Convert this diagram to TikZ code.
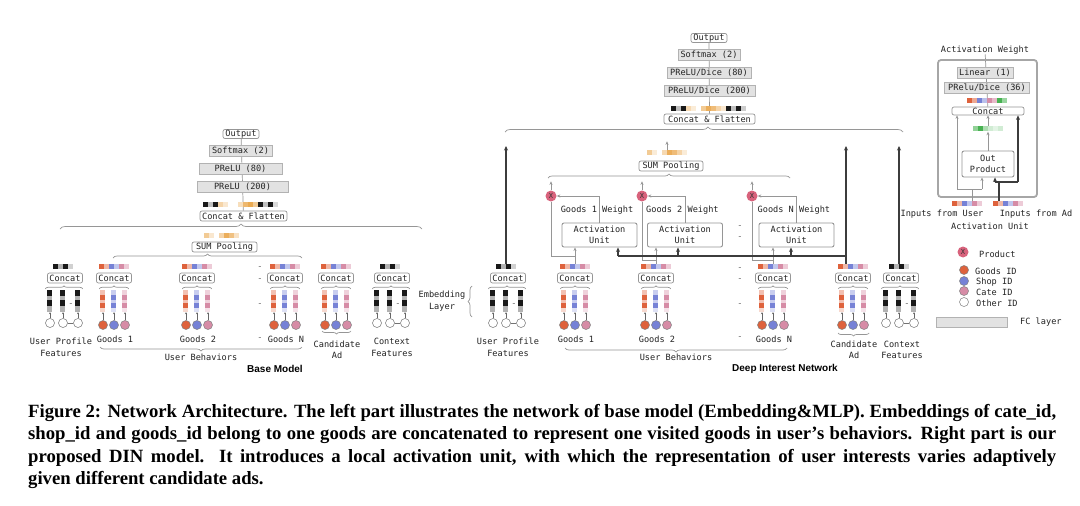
\documentclass[tikz,border=0pt]{standalone}
\usepackage{fontspec}
\newfontfamily\monof{DejaVu Sans Mono}
\newfontfamily\sansf{Liberation Sans}
\newfontfamily\capf{Liberation Serif}
\usetikzlibrary{decorations.pathreplacing,arrows.meta,calc}
\pgfdeclarelayer{bg}
\pgfsetlayers{bg,main}
\definecolor{cgoods}{RGB}{222,98,60}
\definecolor{cshop}{RGB}{118,130,214}
\definecolor{ccate}{RGB}{214,140,166}
\definecolor{cprod}{RGB}{216,98,124}
\definecolor{corg}{RGB}{232,160,62}
\definecolor{cgrn}{RGB}{72,178,82}
\definecolor{lgray}{RGB}{150,150,150}
\definecolor{fcfill}{RGB}{226,226,226}
\definecolor{cdark}{RGB}{60,60,60}
\definecolor{ctext}{RGB}{35,35,35}
\tikzset{
  lbl/.style={font=\fontsize{8.6}{11.5}\monof, text=ctext, inner sep=0pt},
  cbox/.style={lbl, draw=lgray, line width=0.7pt, fill=white, rounded corners=2pt, minimum height=10pt, inner xsep=2pt},
  fcbox/.style={lbl, draw=black!30, line width=0.6pt, fill=fcfill, minimum height=11pt},
  gline/.style={draw=lgray, line width=0.7pt},
  garr/.style={gline, -{Stealth[length=3.5pt,width=3pt]}},
  tarr/.style={draw=black!60, line width=0.4pt, -{Stealth[length=2pt,width=2pt]}},
  dkline/.style={draw=cdark, line width=1.2pt},
  dkarr/.style={dkline, -{Stealth[length=4.5pt,width=4pt]}},
  brc/.style={gline, decorate, decoration={brace, amplitude=#1}},
  brc/.default=4,
  idc/.style={circle, draw=black!50, line width=0.5pt, minimum size=9pt, inner sep=0pt},
  prodc/.style={circle, fill=cprod, minimum size=11pt, inner sep=0pt, font=\fontsize{7}{7}\monof, text=black!80},
  dsh/.style={lbl, text=black!60},
  ttl/.style={font=\sansf\bfseries\fontsize{10}{12}\selectfont, inner sep=0pt},
  capl/.style={anchor=base west, inner sep=0pt, font=\capf\bfseries\fontsize{18.7}{22.6}\selectfont},
  stripn/.style={inner sep=0pt, minimum height=5pt, minimum width=#1*5pt},
  barn/.style={inner sep=0pt, minimum height=22pt, minimum width=5pt},
}
% strip of colour cells: name, cx, y, n, colours
\newcommand{\mkstrip}[5]{%
  \node[stripn=#4] (#1) at (#2,#3) {};
  \foreach \cc [count=\ii from 0] in {#5} {
    \fill[\cc] ($(#1.north west)+(\ii*5,0)$) rectangle ++(5,5);
  }
}
\newcommand{\gbar}[3]{% name, x, colour
  \node[barn] (#1) at (#2,301) {};
  \fill[#3!40] (#1.north west) rectangle ++(5,5);
  \fill[#3] ($(#1.north west)+(0,5)$) rectangle ++(5,5);
  \fill[#3!40] ($(#1.north west)+(0,10)$) rectangle ++(5,3);
  \fill[#3] ($(#1.north west)+(0,13)$) rectangle ++(5,5);
  \fill[#3!25] ($(#1.north west)+(0,18)$) rectangle ++(5,4);
}
\newcommand{\kbar}[2]{% name, x
  \node[barn] (#1) at (#2,301) {};
  \fill[black!90] (#1.north west) rectangle ++(5,6);
  \fill[black!30] ($(#1.north west)+(0,6)$) rectangle ++(5,4);
  \fill[black!90] ($(#1.north west)+(0,10)$) rectangle ++(5,6);
  \fill[black!30] ($(#1.north west)+(0,16)$) rectangle ++(5,6);
}
\newcommand{\goodsgrp}[2]{% prefix, cx
  \mkstrip{#1s}{#2}{267}{6}{cgoods,cgoods!45,cshop,cshop!45,ccate,ccate!45}
  \node[cbox] (#1c) at (#2,278) {Concat};
  \gbar{#1ba}{#2-11}{cgoods}
  \gbar{#1bb}{#2}{cshop}
  \gbar{#1bc}{#2+11}{ccate}
  \draw[brc=3] ($(#1ba.north west)+(-1,-1)$) -- ($(#1bc.north east)+(1,-1)$);
  \node[idc, fill=cgoods] (#1a) at (#2-11,325) {};
  \node[idc, fill=cshop] (#1b) at (#2,325) {};
  \node[idc, fill=ccate] (#1d) at (#2+11,325) {};
  \draw[tarr] (#1a) -- (#1ba);
  \draw[tarr] (#1b) -- (#1bb);
  \draw[tarr] (#1d) -- (#1bc);
}
\newcommand{\othergrp}[2]{% prefix, cx
  \mkstrip{#1s}{#2-2}{267}{4}{black!90,black!30,black!90,black!18}
  \node[cbox] (#1c) at (#2,278) {Concat};
  \kbar{#1ba}{#2-15}
  \kbar{#1bb}{#2-2}
  \kbar{#1bc}{#2+13}
  \draw[brc=3] ($(#1ba.north west)+(-2,-1)$) -- ($(#1bc.north east)+(2,-1)$);
  \node[dsh] (#1e) at (#2+6,305) {-};
  \node[idc, fill=white, draw=black!55] (#1a) at (#2-15,323) {};
  \node[idc, fill=white, draw=black!55] (#1b) at (#2-2,323) {};
  \node[idc, fill=white, draw=black!55] (#1d) at (#2+13,323) {};
  \draw[draw=black!55, line width=0.5pt] (#1b) -- (#1d);
  \draw[tarr] (#1a) -- (#1ba);
  \draw[tarr] (#1b) -- (#1bb);
  \draw[tarr] (#1d) -- (#1bc);
}
\begin{document}
\begin{tikzpicture}[x=1pt,y=-1pt]
\useasboundingbox (0,0) rectangle (1080,506);
\begin{pgfonlayer}{bg}
\fill[white] (0,0) rectangle (1080,506);
\end{pgfonlayer}

%%%%%%%% BASE MODEL
\othergrp{bup}{65}
\goodsgrp{bg1}{114}
\goodsgrp{bg2}{197}
\goodsgrp{bgn}{285}
\goodsgrp{bca}{336}
\othergrp{bcx}{392}
\node[lbl, align=center] (bupl) at (61,347.5) {User Profile\\Features};
\node[lbl] (bg1l) at (115,339) {Goods 1};
\node[lbl] (bg2l) at (198,339) {Goods 2};
\node[lbl] (bgnl) at (286,339) {Goods N};
\node[lbl] (bubl) at (201,357) {User Behaviors};
\node[lbl, align=center] (bcal) at (337,350) {Candidate\\Ad};
\node[lbl, align=center] (bcxl) at (392,347.5) {Context\\Features};
\draw[brc=4] (302,347) -- (100,347);
\draw[brc=3] (351,331) -- (322,331);
\foreach \yy [count=\k] in {268,280,305,339} \node[dsh] (bd\k) at (260,\yy) {-};
\node[lbl, align=center] (eml) at (442,301) {Embedding\\Layer};
\draw[brc=4] (472,317) -- (472,286);

\mkstrip{bsps}{222}{236}{7}{corg!55,corg!25,white,corg!45,corg!85,corg!65,corg!30}
\node[cbox, minimum width=65pt] (bsp) at (224.5,247) {SUM Pooling};
\draw[brc=4] (113,258) -- (302,258);
\draw[brc=5] (60,229) -- (422,229);
\node[cbox, minimum width=87pt] (bcf) at (243.5,216) {Concat \& Flatten};
\mkstrip{bcfs}{241}{205}{15}{black!90,black!25,black!90,corg!45,corg!25,white,white,corg!35,corg!75,corg!90,corg!55,black!90,black!25,black!90,black!15}
\node[fcbox, minimum width=91pt] (bp200) at (242.5,187) {PReLU (200)};
\node[fcbox, minimum width=83pt] (bp80) at (240.5,169) {PReLU (80)};
\node[fcbox, minimum width=63pt] (bsm) at (240.5,151) {Softmax (2)};
\node[cbox, minimum width=36pt, minimum height=9pt] (bout) at (241,134) {Output};
\begin{pgfonlayer}{bg}\draw[gline] (bcf) -- (bout);\end{pgfonlayer}
\node[ttl] (bttl) at (275,369) {Base Model};

%%%%%%%% DIN
\othergrp{dup}{508}
\goodsgrp{dg1}{575}
\goodsgrp{dg2}{656}
\goodsgrp{dgn}{773}
\goodsgrp{dca}{853}
\othergrp{dcx}{901}
\node[lbl, align=center] (dupl) at (508,347.5) {User Profile\\Features};
\node[lbl] (dg1l) at (576,339) {Goods 1};
\node[lbl] (dg2l) at (657,339) {Goods 2};
\node[lbl] (dgnl) at (774,339) {Goods N};
\node[lbl] (dubl) at (676,357) {User Behaviors};
\node[lbl, align=center] (dcal) at (854,350) {Candidate\\Ad};
\node[lbl, align=center] (dcxl) at (902,350) {Context\\Features};
\draw[brc=4] (787,348) -- (565,348);
\draw[brc=3] (869,333) -- (838,333);
\foreach \yy [count=\k] in {227,238,269,280,305,338} \node[dsh] (dd\k) at (740,\yy) {-};

\node[cbox, minimum width=75pt, minimum height=24pt, align=center, line width=0.9pt] (dau1) at (599.5,235) {Activation\\Unit};
\node[cbox, minimum width=75pt, minimum height=24pt, align=center, line width=0.9pt] (dau2) at (685,235) {Activation\\Unit};
\node[cbox, minimum width=75pt, minimum height=24pt, align=center, line width=0.9pt] (dau3) at (796.5,235) {Activation\\Unit};
\node[lbl] (dw1) at (597,210) {Goods 1 Weight};
\node[lbl] (dw2) at (682.4,210) {Goods 2 Weight};
\node[lbl] (dw3) at (793.9,210) {Goods N Weight};
\node[prodc] (dx1) at (551,196) {X};
\node[prodc] (dx2) at (642,196) {X};
\node[prodc] (dx3) at (752,196) {X};
\draw[garr] (dau1.north) |- (dx1.east);
\draw[garr] (dau2.north) |- (dx2.east);
\draw[garr] (dau3.north) |- (dx3.east);
\draw[garr] (dx1.north) -- ($(dx1.north)+(0,-9)$);
\draw[garr] (dx2.north) -- ($(dx2.north)+(0,-9)$);
\draw[garr] (dx3.north) -- ($(dx3.north)+(0,-9)$);
\draw[garr] (dg1s.north) -- (dg1s.north |- dau1.south);
\draw[gline] (dx1.south) |- ($(dg1s.north)+(0,-8)$);
\draw[garr] (dg2s.north) -- (dg2s.north |- dau2.south);
\draw[gline] (dx2.south) |- ($(dg2s.north)+(0,-4)$);
\draw[garr] (dgns.north) -- (dgns.north |- dau3.south);
\draw[gline] (dx3.south) |- ($(dgns.north)+(0,-4)$);

\coordinate (dJ0) at (846,256);
\coordinate (dJ1) at (618,256);
\coordinate (dJ2) at (678,256);
\coordinate (dJ3) at (791,256);
\coordinate (dCAbot) at (846,264);
\coordinate (dCAtop) at (846,146);
\coordinate (dUPtop) at (506,146);
\coordinate (dCXtop) at (899,146);
\draw[dkarr] (dCAbot) -- (dCAtop);
\draw[dkline] (dJ0) -- (dJ1);
\draw[dkarr] (dJ1) -- (dJ1 |- dau1.south);
\draw[dkarr] (dJ2) -- (dJ2 |- dau2.south);
\draw[dkarr] (dJ3) -- (dJ3 |- dau3.south);
\draw[dkarr] (dups.north) -- (dups.north |- dUPtop);
\draw[dkarr] (dcxs.north) -- (dcxs.north |- dCXtop);

\draw[brc=4] (548,178) -- (790,178);
\node[cbox, minimum width=64pt] (dsp) at (671,166) {SUM Pooling};
\mkstrip{dsps}{667}{153}{8}{corg!55,corg!20,white,corg!40,corg!85,corg!70,corg!45,corg!20}
\draw[garr] (dsps.north) -- ($(dsps.north)+(0,-9)$);
\draw[gline, decorate, decoration={brace, amplitude=5, aspect=0.51}] (505,132) -- (903,132);
\node[cbox, minimum width=91pt] (dcf) at (709.5,119) {Concat \& Flatten};
\mkstrip{dcfs}{709}{109}{15}{black!90,black!25,black!90,corg!40,corg!20,white,corg!55,corg!85,corg!70,corg!45,corg!25,black!90,black!25,black!90,black!20}
\node[fcbox, minimum width=91pt] (dp200) at (709.5,91) {PReLU/Dice (200)};
\node[fcbox, minimum width=84pt] (dp80) at (709,73) {PReLU/Dice (80)};
\node[fcbox, minimum width=62pt] (dsm) at (709,55) {Softmax (2)};
\node[cbox, minimum width=36pt, minimum height=9pt] (dout) at (709,38) {Output};
\begin{pgfonlayer}{bg}\draw[gline] (dcf) -- (dout);\end{pgfonlayer}
\node[ttl] (dttl) at (785,369) {Deep Interest Network};

%%%%%%%% ACTIVATION UNIT
\node[draw=black!35, line width=1.8pt, rounded corners=3pt, minimum width=99pt, minimum height=137pt, inner sep=0pt] (auo) at (987.5,128.5) {};
\node[lbl] (aw) at (985,50) {Activation Weight};
\node[fcbox, minimum width=56pt] (aul1) at (985,73) {Linear (1)};
\node[fcbox, minimum width=85pt] (aupd) at (987,88) {PRelu/Dice (36)};
\mkstrip{aus}{987}{101}{8}{cgoods,cgoods!55,cshop,cshop!50,ccate,ccate!60,cgrn,cgrn!55}
\node[cbox, minimum width=72pt, minimum height=8pt] (auc) at (988,111) {Concat};
\mkstrip{aug}{988}{129}{6}{cgrn!60,cgrn,cgrn!45,cgrn!25,cgrn!15,cgrn!25}
\node[cbox, minimum width=52pt, minimum height=26pt, align=center, line width=0.9pt] (aop) at (988,164) {Out\\Product};
\mkstrip{aui}{967}{204}{6}{cgoods,cgoods!45,cshop,cshop!45,ccate,ccate!45}
\mkstrip{aua}{1008}{204}{6}{cgoods,cgoods!45,cshop,cshop!45,ccate,ccate!45}
\node[lbl] (auil) at (942,214) {Inputs from User};
\node[lbl] (aual) at (1036,214) {Inputs from Ad};
\node[lbl] (auol) at (990,226) {Activation Unit};
\begin{pgfonlayer}{bg}\draw[gline] (aw) -- (auc);\end{pgfonlayer}
\draw[garr] (aug.north) -- (auc.south);
\draw[garr] (aop.north) -- (aug.south);
\coordinate (auj) at (972,189);
\coordinate (aul) at (957,189);
\coordinate (aur) at (982,189);
\draw[gline] (aui.north -| auj) -- (auj);
\draw[gline] (aul) -- (aur);
\draw[garr] (aul) -- (aul |- auc.south);
\draw[garr] (aur) -- (aur |- aop.south);
\coordinate (adj) at (999,182);
\coordinate (adl) at (995,182);
\coordinate (adr) at (1018,182);
\draw[dkline] (aua.north -| adj) -- (adj);
\draw[dkline] (adl) -- (adr);
\draw[dkarr] (adl) -- (adl |- aop.south);
\draw[dkarr] (adr) -- (adr |- auc.south);

%%%%%%%% LEGEND
\node[prodc] (lgx) at (963,252) {X};
\node[lbl, anchor=west] (lgxt) at (979,254) {Product};
\node[idc, fill=cgoods] (lg1) at (964,270) {};
\node[lbl, anchor=west] (lg1t) at (975,271) {Goods ID};
\node[idc, fill=cshop] (lg2) at (964,281) {};
\node[lbl, anchor=west] (lg2t) at (976,282) {Shop ID};
\node[idc, fill=ccate] (lg3) at (964,291) {};
\node[lbl, anchor=west] (lg3t) at (976,292) {Cate ID};
\node[idc, fill=white] (lg4) at (964,302) {};
\node[lbl, anchor=west] (lg4t) at (976,303) {Other ID};
\node[fcbox, minimum width=71pt, minimum height=10pt] (lgfc) at (971.5,322) {};
\node[lbl, anchor=west] (lgfct) at (1020,322) {FC layer};

%%%%%%%% CAPTION
\node[capl] (cap1) at (28,417) {\makebox[1028pt][s]{Figure 2: Network Architecture. The left part illustrates the network of base model (Embedding\&MLP). Embeddings of cate\_id,}};
\node[capl] (cap2) at (28,439.6) {\makebox[1028pt][s]{shop\_id and goods\_id belong to one goods are concatenated to represent one visited goods in user’s behaviors. Right part is our}};
\node[capl] (cap3) at (28,462.2) {\makebox[1028pt][s]{proposed DIN model. It introduces a local activation unit, with which the representation of user interests varies adaptively}};
\node[capl] (cap4) at (28,484.8) {given different candidate ads.};
\end{tikzpicture}
\end{document}
